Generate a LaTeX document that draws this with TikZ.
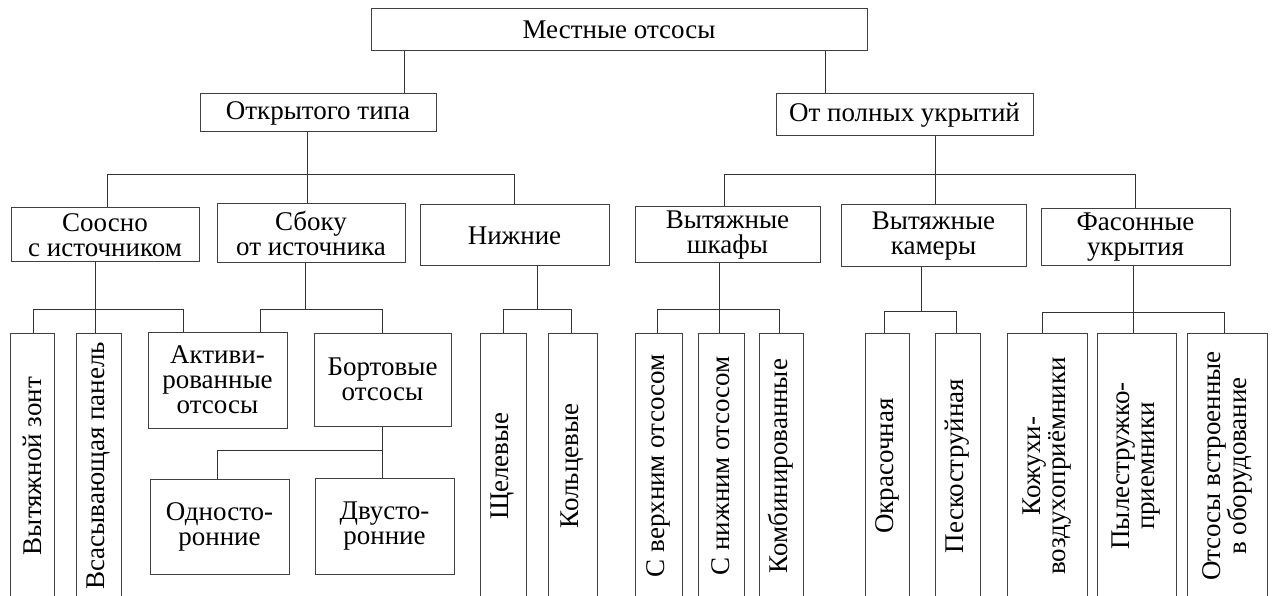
\documentclass[tikz,border=0pt]{standalone}
\usepackage{fontspec}
\setmainfont{Liberation Serif}
\begin{document}
\begin{tikzpicture}[
              x=1pt, y=-1pt,
              box/.style={draw=black!75, line width=1pt, inner sep=0pt, align=center, font={\fontsize{27}{25}\selectfont}},
              vbox/.style={box, rotate=90, minimum width=266pt},
              link/.style={line width=0.9pt, draw=black!80}
            ]
            \useasboundingbox (0,0) rectangle (1272,596);

            % Level: root
            \node[box, minimum width=496pt, minimum height=42pt] (root) at (619,30) {Местные отсосы};

            % Level: two kinds
            \node[box, minimum width=236pt, minimum height=38pt] (open) at (318,113) {Открытого типа};
            \node[box, minimum width=257pt, minimum height=42pt] (closed) at (904.5,115) {От полных укрытий};

            % Level: groups
            \node[box, minimum width=188pt, minimum height=54pt] (coax) at (105,235) {Соосно\\с источником};
            \node[box, minimum width=188pt, minimum height=59pt] (side) at (311,233.5) {Сбоку\\от источника};
            \node[box, minimum width=189pt, minimum height=61pt] (lower) at (514.5,235.5) {Нижние};
            \node[box, minimum width=185pt, minimum height=56pt] (hoods) at (727.5,235) {Вытяжные\\шкафы};
            \node[box, minimum width=185pt, minimum height=62pt] (cabins) at (933.5,236) {Вытяжные\\камеры};
            \node[box, minimum width=189pt, minimum height=57pt] (covers) at (1135.5,237.5) {Фасонные\\укрытия};

            % Level: side suction
            \node[box, minimum width=139pt, minimum height=96pt] (active) at (217.5,380) {Активи-\\рованные\\отсосы};
            \node[box, minimum width=137pt, minimum height=93pt] (board) at (382.5,379.5) {Бортовые\\отсосы};
            \node[box, minimum width=139pt, minimum height=95pt] (oneside) at (219.5,526.5) {Односто-\\ронние};
            \node[box, minimum width=139pt, minimum height=96pt] (twoside) at (384.5,526) {Двусто-\\ронние};

            % Level: bottom row (rotated)
            \node[vbox, minimum height=44pt] (umbrella) at (32,466) {Вытяжной зонт};
            \node[vbox, minimum height=45pt] (panel) at (98.5,466) {Всасывающая панель};
            \node[vbox, minimum height=46pt] (slot) at (503,466) {Щелевые};
            \node[vbox, minimum height=49pt] (ring) at (572.5,466) {Кольцевые};
            \node[vbox, minimum height=47pt] (upper) at (658.5,466) {С верхним отсосом};
            \node[vbox, minimum height=46pt] (nether) at (721,466) {С нижним отсосом};
            \node[vbox, minimum height=44pt] (combined) at (781,466) {Комбинированные};
            \node[vbox, minimum height=44pt] (paint) at (887,466) {Окрасочная};
            \node[vbox, minimum height=45pt] (sand) at (957.5,466) {Пескоструйная};
            \node[vbox, minimum height=80pt] (casing) at (1047,466) {Кожухи-\\воздухоприёмники};
            \node[vbox, minimum height=79pt] (dust) at (1136.5,466) {Пылестружко-\\приемники};
            \node[vbox, minimum height=80pt] (builtin) at (1227,466) {Отсосы встроенные\\в оборудование};

            % Links: root
            \draw[link] (root.south -| 404,0) -- (open.north -| 404,0);
            \draw[link] (root.south -| 825,0) -- (closed.north -| 825,0);

            % Links: open type
            \draw[link] (open.south -| 307,0) |- (107,174) -- (coax.north -| 107,0);
            \draw[link] (open.south -| 307,0) -- (side.north -| 307,0);
            \draw[link] (open.south -| 307,0) |- (514,174) -- (lower.north -| 514,0);

            % Links: full covers
            \draw[link] (closed.south -| 935,0) |- (724,174) -- (hoods.north -| 724,0);
            \draw[link] (closed.south -| 935,0) -- (cabins.north -| 935,0);
            \draw[link] (closed.south -| 935,0) |- (1135,174) -- (covers.north -| 1135,0);

            % Links: coaxial
            \draw[link] (coax.south -| 95,0) |- (33,309) -- (umbrella.east -| 33,0);
            \draw[link] (coax.south -| 95,0) -- (panel.east -| 95,0);
            \draw[link] (coax.south -| 95,0) |- (183,309) -- (active.north -| 183,0);

            % Links: from the side
            \draw[link] (side.south -| 305,0) |- (260,309) -- (active.north -| 260,0);
            \draw[link] (side.south -| 305,0) |- (382,309) -- (board.north -| 382,0);
            \draw[link] (board.south -| 382,0) |- (217,450) -- (oneside.north -| 217,0);
            \draw[link] (board.south -| 382,0) -- (twoside.north -| 382,0);

            % Links: lower
            \draw[link] (lower.south -| 537,0) |- (503,309) -- (slot.east -| 503,0);
            \draw[link] (lower.south -| 537,0) |- (571,309) -- (ring.east -| 571,0);

            % Links: hoods
            \draw[link] (hoods.south -| 719,0) |- (657,309) -- (upper.east -| 657,0);
            \draw[link] (hoods.south -| 719,0) -- (nether.east -| 719,0);
            \draw[link] (hoods.south -| 719,0) |- (779,309) -- (combined.east -| 779,0);

            % Links: cabins
            \draw[link] (cabins.south -| 921,0) |- (884,311) -- (paint.east -| 884,0);
            \draw[link] (cabins.south -| 921,0) |- (956,311) -- (sand.east -| 956,0);

            % Links: shaped covers
            \draw[link] (covers.south -| 1133,0) |- (1042,312) -- (casing.east -| 1042,0);
            \draw[link] (covers.south -| 1133,0) -- (dust.east -| 1133,0);
            \draw[link] (covers.south -| 1133,0) |- (1224,312) -- (builtin.east -| 1224,0);

            \end{tikzpicture}
\end{document}
